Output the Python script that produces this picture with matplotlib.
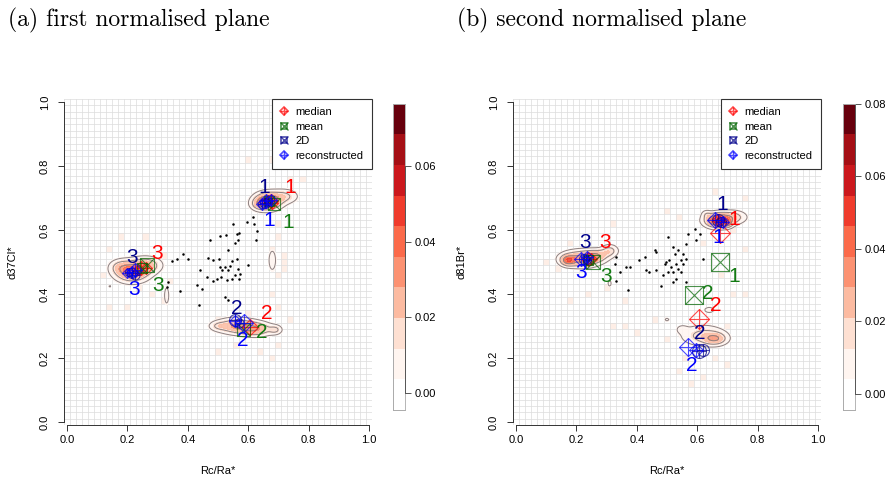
import numpy as np
import matplotlib
matplotlib.use("Agg")
import matplotlib.pyplot as plt
from matplotlib.colors import ListedColormap, BoundaryNorm
from matplotlib.lines import Line2D
from matplotlib.patches import Rectangle

plt.rcParams['font.family'] = ['Liberation Sans', 'DejaVu Sans']

# white + brewer "Reds"
level_cols = ['#FFFFFF', '#FFF5F0', '#FEE0D2', '#FCBBA1', '#FC9272',
              '#FB6A4A', '#EF3B2C', '#CB181D', '#A50F15', '#67000D']

# ---------------- panel (a): Rc/Ra* vs d37Cl* ----------------
a_zrange = (-0.0045, 0.0765)
a_cbar_ticks = [0.00, 0.02, 0.04, 0.06]

# coarse 0.02 cells with a little mass
a_cell_x = [0.68, 0.60, 0.74, 0.78, 0.70, 0.70, 0.68, 0.70, 0.68, 0.70, 0.18, 0.26, 0.14,
            0.32, 0.34, 0.14, 0.28, 0.32, 0.20, 0.50, 0.56, 0.64, 0.68, 0.70, 0.74, 0.50,
            0.72, 0.72, 0.72, 0.60, 0.12, 0.24]
a_cell_y = [0.82, 0.82, 0.76, 0.76, 0.62, 0.58, 0.54, 0.46, 0.40, 0.36, 0.58, 0.58, 0.54,
            0.52, 0.44, 0.36, 0.40, 0.38, 0.36, 0.22, 0.24, 0.22, 0.20, 0.24, 0.32, 0.32,
            0.50, 0.52, 0.48, 0.34, 0.46, 0.42]
a_cell_v = [0.014] * 32

# smooth density components: centre, spread, peak
a_blob_x  = [0.665, 0.720, 0.635, 0.215, 0.265, 0.175, 0.330, 0.560, 0.625, 0.690, 0.500, 0.680, 0.142]
a_blob_y  = [0.690, 0.705, 0.680, 0.470, 0.490, 0.485, 0.395, 0.300, 0.290, 0.288, 0.300, 0.505, 0.424]
a_blob_sx = [0.028, 0.028, 0.018, 0.035, 0.030, 0.022, 0.007, 0.040, 0.035, 0.014, 0.018, 0.009, 0.003]
a_blob_sy = [0.017, 0.014, 0.012, 0.020, 0.016, 0.014, 0.024, 0.015, 0.014, 0.009, 0.009, 0.024, 0.003]
a_blob_w  = [0.045, 0.016, 0.012, 0.040, 0.022, 0.012, 0.008, 0.028, 0.026, 0.014, 0.010, 0.010, 0.007]

a_dots_x = [0.474, 0.507, 0.525, 0.551, 0.564, 0.571, 0.556, 0.532, 0.565, 0.595, 0.618, 0.628,
            0.626, 0.617, 0.468, 0.485, 0.504, 0.507, 0.523, 0.532, 0.545, 0.562, 0.567, 0.556,
            0.571, 0.545, 0.529, 0.509, 0.496, 0.485, 0.463, 0.440, 0.429, 0.446, 0.374, 0.402,
            0.383, 0.363, 0.347, 0.336, 0.330, 0.438, 0.523, 0.533, 0.598, 0.540, 0.573, 0.512]
a_dots_y = [0.570, 0.582, 0.583, 0.619, 0.586, 0.591, 0.560, 0.536, 0.569, 0.626, 0.617, 0.598,
            0.570, 0.640, 0.512, 0.505, 0.510, 0.484, 0.484, 0.474, 0.503, 0.508, 0.479, 0.458,
            0.448, 0.448, 0.445, 0.453, 0.448, 0.439, 0.453, 0.474, 0.429, 0.416, 0.408, 0.508,
            0.526, 0.509, 0.503, 0.437, 0.421, 0.364, 0.390, 0.382, 0.489, 0.488, 0.463, 0.474]

# centroid estimates (several runs each); sizes in pixels
a_med_x = [0.675, 0.665, 0.680, 0.606, 0.245, 0.260, 0.235]
a_med_y = [0.690, 0.695, 0.685, 0.296, 0.480, 0.480, 0.475]
a_med_s = [14, 10, 12, 16, 14, 12, 10]
a_mean_x = [0.685, 0.670, 0.583, 0.265, 0.250]
a_mean_y = [0.680, 0.690, 0.290, 0.490, 0.480]
a_mean_s = [12, 10, 13, 14, 10]
a_2d_x = [0.655, 0.645, 0.665, 0.556, 0.570, 0.215, 0.205, 0.225]
a_2d_y = [0.685, 0.680, 0.690, 0.318, 0.310, 0.465, 0.470, 0.460]
a_2d_s = [10, 8, 8, 12, 9, 10, 8, 9]
a_rec_x = [0.660, 0.645, 0.675, 0.585, 0.555, 0.215, 0.225, 0.200]
a_rec_y = [0.690, 0.680, 0.695, 0.310, 0.315, 0.470, 0.475, 0.465]
a_rec_s = [14, 11, 12, 18, 12, 12, 14, 10]

# cluster numbers: (text, x, y, kind)
a_labels = [('1', 0.652, 0.732, '2d'), ('1', 0.738, 0.732, 'med'),
            ('1', 0.669, 0.629, 'rec'), ('1', 0.732, 0.623, 'mean'),
            ('2', 0.563, 0.355, '2d'), ('2', 0.662, 0.340, 'med'),
            ('2', 0.646, 0.280, 'mean'), ('2', 0.583, 0.255, 'rec'),
            ('3', 0.215, 0.514, '2d'), ('3', 0.298, 0.526, 'med'),
            ('3', 0.222, 0.414, 'rec'), ('3', 0.301, 0.427, 'mean')]

# ---------------- panel (b): Rc/Ra* vs d81Br* ----------------
b_zrange = (-0.0045, 0.080)
b_cbar_ticks = [0.00, 0.02, 0.04, 0.06, 0.08]

b_cell_x = [0.66, 0.76, 0.54, 0.50, 0.32, 0.10, 0.18, 0.30, 0.36, 0.32, 0.36, 0.40, 0.46,
            0.50, 0.54, 0.58, 0.62, 0.70, 0.72, 0.76, 0.68, 0.76, 0.72, 0.62, 0.18, 0.14,
            0.24, 0.56, 0.66, 0.70]
b_cell_y = [0.72, 0.70, 0.64, 0.66, 0.62, 0.50, 0.38, 0.42, 0.38, 0.30, 0.30, 0.28, 0.32,
            0.26, 0.16, 0.12, 0.14, 0.18, 0.40, 0.40, 0.46, 0.54, 0.60, 0.56, 0.56, 0.48,
            0.40, 0.20, 0.20, 0.30]
b_cell_v = [0.014] * 30

b_blob_x  = [0.670, 0.720, 0.630, 0.215, 0.172, 0.265, 0.310, 0.310, 0.620, 0.660, 0.550, 0.640, 0.500, 0.700]
b_blob_y  = [0.630, 0.640, 0.650, 0.510, 0.505, 0.520, 0.535, 0.433, 0.270, 0.260, 0.290, 0.350, 0.320, 0.620]
b_blob_sx = [0.028, 0.028, 0.010, 0.040, 0.015, 0.025, 0.018, 0.006, 0.045, 0.024, 0.012, 0.015, 0.010, 0.010]
b_blob_sy = [0.014, 0.013, 0.008, 0.016, 0.010, 0.012, 0.012, 0.010, 0.020, 0.012, 0.008, 0.008, 0.006, 0.008]
b_blob_w  = [0.055, 0.018, 0.008, 0.035, 0.030, 0.022, 0.018, 0.007, 0.018, 0.024, 0.008, 0.008, 0.006, 0.020]

b_dots_x = [0.503, 0.519, 0.536, 0.552, 0.563, 0.569, 0.593, 0.609, 0.596, 0.563, 0.547, 0.530,
            0.514, 0.497, 0.492, 0.508, 0.525, 0.552, 0.536, 0.519, 0.503, 0.486, 0.464, 0.442,
            0.431, 0.426, 0.459, 0.464, 0.409, 0.376, 0.365, 0.343, 0.327, 0.332, 0.330, 0.371,
            0.481, 0.519, 0.563, 0.618, 0.547, 0.530]
b_dots_y = [0.577, 0.546, 0.536, 0.526, 0.557, 0.588, 0.603, 0.588, 0.567, 0.510, 0.505, 0.494,
            0.484, 0.499, 0.494, 0.505, 0.526, 0.494, 0.479, 0.468, 0.468, 0.458, 0.474, 0.468,
            0.474, 0.515, 0.536, 0.531, 0.505, 0.484, 0.484, 0.468, 0.494, 0.515, 0.442, 0.411,
            0.424, 0.437, 0.437, 0.510, 0.468, 0.448]

b_med_x = [0.676, 0.670, 0.607, 0.240, 0.250]
b_med_y = [0.590, 0.630, 0.323, 0.510, 0.510]
b_med_s = [20, 12, 20, 14, 12]
b_mean_x = [0.676, 0.589, 0.255, 0.240]
b_mean_y = [0.499, 0.398, 0.499, 0.505]
b_mean_s = [18, 18, 14, 10]
b_2d_x = [0.670, 0.680, 0.607, 0.620, 0.225, 0.235]
b_2d_y = [0.630, 0.625, 0.222, 0.225, 0.510, 0.505]
b_2d_s = [12, 10, 14, 12, 10, 8]
b_rec_x = [0.660, 0.685, 0.571, 0.595, 0.215, 0.235]
b_rec_y = [0.630, 0.625, 0.235, 0.225, 0.510, 0.515]
b_rec_s = [16, 12, 18, 14, 14, 12]

b_labels = [('1', 0.682, 0.681, '2d'), ('1', 0.723, 0.634, 'med'),
            ('1', 0.671, 0.577, 'rec'), ('1', 0.723, 0.453, 'mean'),
            ('2', 0.636, 0.401, 'mean'), ('2', 0.660, 0.364, 'med'),
            ('2', 0.607, 0.276, '2d'), ('2', 0.583, 0.178, 'rec'),
            ('3', 0.228, 0.562, '2d'), ('3', 0.294, 0.562, 'med'),
            ('3', 0.217, 0.468, 'rec'), ('3', 0.299, 0.455, 'mean')]

mark_col = {'med': '#ff0000', 'mean': '#006400', '2d': '#00008b', 'rec': '#0000ff'}
text_col = {'med': '#ff0000', 'mean': '#127a12', '2d': '#00008b', 'rec': '#0000ff'}
PX = 72.0 / 100  # points per pixel at 100 dpi


def draw_marks(ax, kind, xs, ys, sizes, alpha=0.7):
    c = mark_col[kind]
    for x, y, s in zip(xs, ys, sizes):
        ms = s * PX
        if kind in ('med', 'rec'):
            ax.plot(x, y, 'D', ms=ms / 1.414, mfc='none', mec=c, mew=0.8, alpha=alpha, zorder=5)
            ax.plot(x, y, '+', ms=ms, mec=c, mew=0.8, alpha=alpha, zorder=5)
        elif kind == 'mean':
            ax.plot(x, y, 's', ms=ms, mfc='none', mec=c, mew=0.8, alpha=alpha, zorder=5)
            ax.plot(x, y, 'x', ms=ms, mec=c, mew=0.8, alpha=alpha, zorder=5)
        else:
            ax.plot(x, y, 'o', ms=ms, mfc='none', mec=c, mew=0.8, alpha=alpha, zorder=5)
            ax.plot(x, y, '+', ms=ms, mec=c, mew=0.8, alpha=alpha, zorder=5)


def draw_panel(ax, zr, cells, blobs, dots, marks, labels, ylabel):
    breaks = np.linspace(zr[0], zr[1], len(level_cols) + 1)
    cmap = ListedColormap(level_cols)
    norm = BoundaryNorm(breaks, cmap.N)

    # coarse cell image on the 0.02 grid
    edges = np.arange(-0.01, 1.0101, 0.02)
    z = np.full((51, 51), np.nan)
    for x, y, v in zip(*cells):
        z[int(round(y / 0.02)), int(round(x / 0.02))] = v
    ax.pcolormesh(edges, edges, np.ma.masked_invalid(z), cmap=cmap, norm=norm,
                  alpha=0.55, zorder=0.2)
    for e in edges:
        ax.axvline(e, color='#dcdcdc', lw=0.5, zorder=0.4)
        ax.axhline(e, color='#dcdcdc', lw=0.5, zorder=0.4)

    # smooth density with contours
    g = np.linspace(0, 1, 301)
    gx, gy = np.meshgrid(g, g)
    dens = np.zeros_like(gx)
    for bx, by, sx, sy, w in zip(*blobs):
        dens += w * np.exp(-0.5 * (((gx - bx) / sx) ** 2 + ((gy - by) / sy) ** 2))
    ax.contourf(gx, gy, dens, levels=list(breaks[1:]) + [1.0], colors=level_cols[1:],
                alpha=0.85, zorder=1)
    ax.contour(gx, gy, dens, levels=[0.005, 0.014, 0.03], colors='#8c8080',
               linewidths=0.7, zorder=1.5)

    ax.plot(dots[0], dots[1], 'o', ms=1.8, color='black', mew=0, zorder=3)
    for kind, (xs, ys, ss) in marks.items():
        draw_marks(ax, kind, xs, ys, ss)
    for t, x, y, kind in labels:
        ax.text(x, y, t, color=text_col[kind], fontsize=15, ha='center', va='center', zorder=6)

    ax.set_xlim(-0.01, 1.01)
    ax.set_ylim(-0.01, 1.01)
    ticks = [0.0, 0.2, 0.4, 0.6, 0.8, 1.0]
    ax.set_xticks(ticks, ['%.1f' % t for t in ticks])
    ax.set_yticks(ticks, ['%.1f' % t for t in ticks])
    for side in ('top', 'right'):
        ax.spines[side].set_visible(False)
    for side in ('left', 'bottom'):
        ax.spines[side].set_bounds(0, 1)
        ax.spines[side].set_color('#333333')
        ax.spines[side].set_linewidth(0.7)
    ax.tick_params(length=4, width=0.7, color='#333333', labelsize=8, pad=3)
    ax.tick_params(axis='y', pad=6)
    for lab in ax.get_yticklabels():
        lab.set_rotation(90)
        lab.set_va('center')
    ax.set_xlabel('Rc/Ra*', fontsize=8, labelpad=15)
    ax.set_ylabel(ylabel, fontsize=8, labelpad=16)

    handles = []
    for kind, m1, m2 in [('med', 'D', '+'), ('mean', 's', 'x'), ('2d', 's', 'x'), ('rec', 'D', '+')]:
        c = mark_col[kind]
        h1 = Line2D([], [], ls='', marker=m1, ms=5 if m1 == 's' else 4, mfc='none', mec=c, mew=1.2, alpha=0.7)
        h2 = Line2D([], [], ls='', marker=m2, ms=5.5, mec=c, mew=1.0, alpha=0.7)
        handles.append((h1, h2))
    leg = ax.legend(handles, ['median', 'mean', '2D', 'reconstructed'], loc='upper right',
                    fontsize=8, frameon=True, fancybox=False, borderaxespad=0,
                    handlelength=0.8, handletextpad=0.6, labelspacing=0.42,
                    borderpad=0.75, framealpha=1)
    leg.get_frame().set_edgecolor('#333333')
    leg.get_frame().set_linewidth(0.8)
    leg.set_zorder(10)
    return breaks


def draw_colorbar(cax, breaks, ticks):
    mids = 0.5 * (breaks[1:] + breaks[:-1])
    cax.pcolormesh([0, 1], breaks, mids[:, None], cmap=ListedColormap(level_cols),
                   norm=BoundaryNorm(breaks, len(level_cols)))
    cax.set_xlim(0, 1)
    cax.set_ylim(breaks[0], breaks[-1])
    cax.set_xticks([])
    cax.yaxis.tick_right()
    cax.set_yticks(ticks, ['%.2f' % t for t in ticks])
    cax.tick_params(axis='y', length=4, width=0.7, color='#555555', labelsize=8, pad=3)
    for side in ('left', 'top', 'bottom'):
        cax.spines[side].set_color('#aaaaaa')
        cax.spines[side].set_linewidth(0.6)
    cax.spines['right'].set_color('#555555')
    cax.spines['right'].set_linewidth(0.7)
    cax.spines['right'].set_bounds(ticks[0], ticks[-1])
    cax.add_patch(Rectangle((0, breaks[0]), 1, breaks[-1] - breaks[0], fill=False,
                            ec='#aaaaaa', lw=0.6, clip_on=False))


fig = plt.figure(figsize=(8.9, 4.78), dpi=100)

ax_a = fig.add_axes([0.0719, 0.1105, 0.346, 0.683])
br_a = draw_panel(ax_a, a_zrange, (a_cell_x, a_cell_y, a_cell_v),
                  (a_blob_x, a_blob_y, a_blob_sx, a_blob_sy, a_blob_w),
                  (a_dots_x, a_dots_y),
                  {'med': (a_med_x, a_med_y, a_med_s), 'mean': (a_mean_x, a_mean_y, a_mean_s),
                   '2d': (a_2d_x, a_2d_y, a_2d_s), 'rec': (a_rec_x, a_rec_y, a_rec_s)},
                  a_labels, 'd37Cl*')
cax_a = fig.add_axes([0.4416, 0.1423, 0.0135, 0.641])
draw_colorbar(cax_a, br_a, a_cbar_ticks)

ax_b = fig.add_axes([0.5764, 0.1105, 0.346, 0.683])
br_b = draw_panel(ax_b, b_zrange, (b_cell_x, b_cell_y, b_cell_v),
                  (b_blob_x, b_blob_y, b_blob_sx, b_blob_sy, b_blob_w),
                  (b_dots_x, b_dots_y),
                  {'med': (b_med_x, b_med_y, b_med_s), 'mean': (b_mean_x, b_mean_y, b_mean_s),
                   '2d': (b_2d_x, b_2d_y, b_2d_s), 'rec': (b_rec_x, b_rec_y, b_rec_s)},
                  b_labels, 'd81Br*')
cax_b = fig.add_axes([0.9472, 0.1423, 0.0135, 0.641])
draw_colorbar(cax_b, br_b, b_cbar_ticks)

fig.text(0.009, 0.958, '(a) first normalised plane', family='cmr10', fontsize=17, va='center')
fig.text(0.513, 0.958, '(b) second normalised plane', family='cmr10', fontsize=17, va='center')

fig.savefig('out.png', dpi=100)
